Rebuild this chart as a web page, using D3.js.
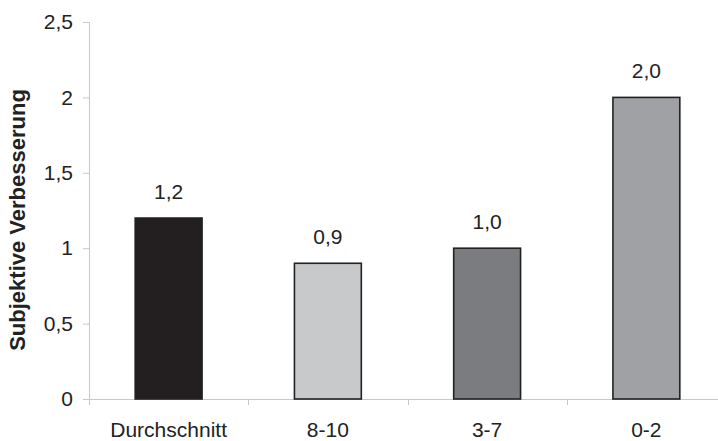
<!DOCTYPE html>
<html>
<head>
<meta charset="utf-8">
<script src="https://cdn.jsdelivr.net/npm/d3@7"></script>
<style>
  html, body { margin: 0; padding: 0; background: #fff; }
  svg { display: block; font-family: "Liberation Sans", Arial, sans-serif; }
</style>
</head>
<body>
<svg id="chart" width="718" height="441"></svg>
<script>
// Subjective improvement by group
const categories = ["Durchschnitt", "8-10", "3-7", "0-2"];
const values = [1.2, 0.9, 1.0, 2.0];
const barColors = ["#231f20", "#c8c9cb", "#7b7c7f", "#a0a1a4"];
const yTicks = [0, 0.5, 1, 1.5, 2, 2.5];
const yTitle = "Subjektive Verbesserung";

const svg = d3.select("#chart");
const margin = { left: 89, top: 22, bottom: 42 };
const height = 441;
const plotBottom = height - margin.bottom;

const x = d3.scaleBand()
  .domain(categories)
  .range([margin.left, 726])
  .paddingInner(0.58)
  .paddingOuter(0.29);

const y = d3.scaleLinear()
  .domain([0, 2.5])
  .range([plotBottom, margin.top]);

const comma = v => d3.format(".1f")(v).replace(".", ",");
const tickFmt = v => String(v).replace(".", ",");

// y axis
const yAxis = svg.append("g")
  .attr("transform", `translate(${margin.left},0)`)
  .call(d3.axisLeft(y).tickValues(yTicks).tickSize(6).tickPadding(10).tickFormat(tickFmt));
yAxis.select(".domain").attr("stroke", "#c8c8c8");
yAxis.selectAll(".tick line").attr("stroke", "#c8c8c8");
yAxis.selectAll(".tick text")
  .attr("fill", "#222")
  .style("font-size", "21px");

// x axis: ticks sit on band boundaries
const bandEdges = categories.map(c => x(c) - x.step() * x.paddingInner() / 2);
const xAxisG = svg.append("g");
xAxisG.append("line")
  .attr("x1", margin.left).attr("x2", 718)
  .attr("y1", plotBottom + 0.5).attr("y2", plotBottom + 0.5)
  .attr("stroke", "#c8c8c8");
xAxisG.selectAll("line.tick")
  .data(bandEdges)
  .join("line")
  .attr("class", "tick")
  .attr("x1", d => Math.round(d) + 0.5).attr("x2", d => Math.round(d) + 0.5)
  .attr("y1", plotBottom).attr("y2", plotBottom + 6)
  .attr("stroke", "#c8c8c8");
xAxisG.selectAll("text")
  .data(categories)
  .join("text")
  .attr("x", d => x(d) + x.bandwidth() / 2)
  .attr("y", 437)
  .attr("text-anchor", "middle")
  .attr("fill", "#222")
  .style("font-size", "21px")
  .text(d => d);

// bars
svg.selectAll("rect.bar")
  .data(values)
  .join("rect")
  .attr("class", "bar")
  .attr("x", (d, i) => x(categories[i]))
  .attr("y", d => y(d))
  .attr("width", x.bandwidth())
  .attr("height", d => y(0) - y(d))
  .attr("fill", (d, i) => barColors[i])
  .attr("stroke", "#222")
  .attr("stroke-width", 1.6);

// value labels
svg.selectAll("text.val")
  .data(values)
  .join("text")
  .attr("class", "val")
  .attr("x", (d, i) => x(categories[i]) + x.bandwidth() / 2)
  .attr("y", d => y(d) - 19)
  .attr("text-anchor", "middle")
  .attr("fill", "#222")
  .style("font-size", "21px")
  .text(d => comma(d));

// y axis title
svg.append("text")
  .attr("transform", "translate(25,220) rotate(-90)")
  .attr("text-anchor", "middle")
  .attr("fill", "#222")
  .style("font-size", "22px")
  .style("font-weight", "bold")
  .text(yTitle);
</script>
</body>
</html>
